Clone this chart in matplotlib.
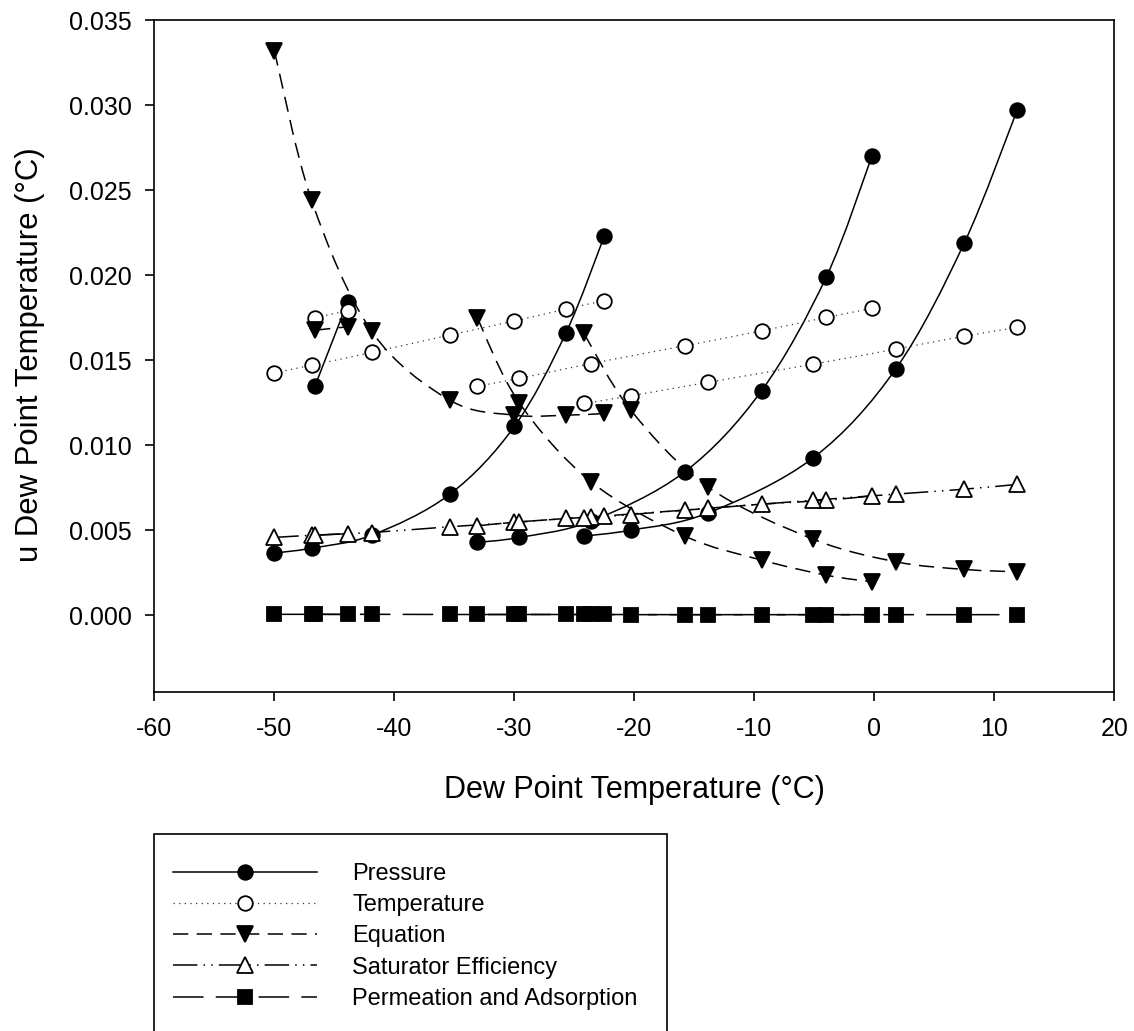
import numpy as np
import matplotlib.pyplot as plt
from matplotlib.path import Path
from matplotlib.patches import PathPatch, Rectangle
from matplotlib.lines import Line2D

plt.rcParams['font.family'] = ['Liberation Sans', 'DejaVu Sans']
plt.rcParams['axes.unicode_minus'] = False

# dew point set points of the four runs
dp_a = [-50.0, -46.9, -41.9, -35.4, -30.0, -25.7, -22.5]
dp_b = [-46.6, -43.9]
dp_c = [-33.1, -29.6, -23.6, -15.8, -9.4, -4.0, -0.2]
dp_d = [-24.2, -20.3, -13.9, -5.1, 1.8, 7.5, 11.9]

# uncertainty contributions for each run
pressure_a = [0.00365, 0.00394, 0.0047, 0.0071, 0.0111, 0.0166, 0.0223]
pressure_b = [0.0135, 0.0184]
pressure_c = [0.00428, 0.00457, 0.00553, 0.00843, 0.0132, 0.0199, 0.0270]
pressure_d = [0.00465, 0.0050, 0.0060, 0.00925, 0.0145, 0.0219, 0.0297]

temperature_a = [0.01425, 0.0147, 0.01545, 0.01647, 0.0173, 0.0180, 0.0185]
temperature_b = [0.0175, 0.0179]
temperature_c = [0.01347, 0.01392, 0.0148, 0.01584, 0.01672, 0.01751, 0.01804]
temperature_d = [0.01245, 0.0129, 0.01369, 0.01476, 0.01565, 0.01641, 0.01692]

equation_a = [0.0332, 0.0244, 0.0167, 0.01265, 0.01176, 0.01176, 0.01186]
equation_b = [0.01676, 0.01696]
equation_c = [0.0175, 0.0125, 0.00784, 0.00465, 0.00324, 0.00235, 0.00196]
equation_d = [0.01657, 0.01206, 0.00755, 0.00447, 0.00314, 0.00269, 0.00255]

saturator_a = [0.00457, 0.0047, 0.00486, 0.0052, 0.00545, 0.00569, 0.00582]
saturator_b = [0.0047, 0.0048]
saturator_c = [0.00525, 0.00549, 0.00578, 0.00618, 0.00653, 0.00676, 0.00702]
saturator_d = [0.00569, 0.00592, 0.00628, 0.00676, 0.00712, 0.00741, 0.00769]

permeation_a = [0.00005, 0.00005, 0.00005, 0.00004, 0.00004, 0.00004, 0.00004]
permeation_b = [0.00005, 0.00004]
permeation_c = [0.00004, 0.00004, 0.00004, 0.00003, 0.00003, 0.00003, 0.00003]
permeation_d = [0.00004, 0.00003, 0.00003, 0.00003, 0.00003, 0.00003, 0.00003]

runs = [dp_a, dp_b, dp_c, dp_d]
series = [
    ("Pressure", [pressure_a, pressure_b, pressure_c, pressure_d],
     dict(ls='-', lw=1.1, color='black', marker='o', ms=10.5, mfc='black')),
    ("Temperature", [temperature_a, temperature_b, temperature_c, temperature_d],
     dict(ls=(0, (1, 3.5)), lw=0.9, color='#333333', marker='o', ms=10.5, mfc='white')),
    ("Equation", [equation_a, equation_b, equation_c, equation_d],
     dict(ls=(0, (10, 5.5)), lw=1.1, color='black', marker='v', ms=12, mfc='black')),
    ("Saturator Efficiency", [saturator_a, saturator_b, saturator_c, saturator_d],
     dict(ls=(0, (16, 4, 1, 4, 1, 4)), lw=1.1, color='black', marker='^', ms=11, mfc='white')),
    ("Permeation and Adsorption", [permeation_a, permeation_b, permeation_c, permeation_d],
     dict(ls=(0, (20, 8)), lw=1.1, color='black', marker='s', ms=10.5, mfc='black')),
]


def smooth_path(x, y):
    # Catmull-Rom spline through the points, as cubic bezier segments
    pts = np.column_stack([x, y])
    n = len(pts)
    if n < 3:
        return Path(pts)
    verts = [pts[0]]
    codes = [Path.MOVETO]
    for i in range(n - 1):
        p0 = pts[max(i - 1, 0)]
        p1 = pts[i]
        p2 = pts[i + 1]
        p3 = pts[min(i + 2, n - 1)]
        verts += [p1 + (p2 - p0) / 6, p2 - (p3 - p1) / 6, p2]
        codes += [Path.CURVE4] * 3
    return Path(verts, codes)


fig = plt.figure(figsize=(11.34, 10.31), dpi=100)
ax = fig.add_axes([0.1361, 0.3291, 0.8466, 0.6515])

handles = []
for k, (name, values, st) in enumerate(series):
    for x, y in zip(runs, values):
        ax.add_patch(PathPatch(smooth_path(x, y), fill=False, edgecolor=st['color'],
                               lw=st['lw'], linestyle=st['ls'], zorder=2 + k * 0.1))
        ax.plot(x, y, ls='none', marker=st['marker'], ms=st['ms'],
                mfc=st['mfc'], mec='black', mew=1.3, zorder=3 + k * 0.1)
    handles.append(Line2D([], [], color=st['color'], lw=st['lw'], ls=st['ls'],
                          marker=st['marker'], ms=st['ms'], mfc=st['mfc'],
                          mec='black', mew=1.3))

ax.set_xlim(-60, 20)
ax.set_ylim(-0.0045, 0.035)
ax.set_xticks(np.arange(-60, 21, 10))
ax.set_yticks(np.arange(0, 0.0351, 0.005))
ax.yaxis.set_major_formatter(plt.FormatStrFormatter('%.3f'))
ax.tick_params(direction='out', length=6.5, width=1.2, labelsize=18)
ax.tick_params(axis='x', pad=11.5)
ax.tick_params(axis='y', pad=10)
for sp in ax.spines.values():
    sp.set_linewidth(1.2)

fig.text(634 / 1134, 1 - 798 / 1031, "Dew Point Temperature (°C)",
         ha='center', va='baseline', fontsize=22)
fig.text(30 / 1134, 1 - 355 / 1031, "u Dew Point Temperature (°C)",
         ha='center', va='center', rotation=90, fontsize=22.4)

# legend box runs past the bottom edge of the figure
fig.patches.append(Rectangle((154 / 1134, -0.05), (667 - 154) / 1134, 1 - 834 / 1031 + 0.05,
                             transform=fig.transFigure, fill=False, edgecolor='black', lw=1.2))
fig.legend(handles, [s[0] for s in series], loc='upper left',
           bbox_to_anchor=(173 / 1134, 1 - 863 / 1031), bbox_transform=fig.transFigure,
           fontsize=17, frameon=False, borderaxespad=0, borderpad=0,
           handlelength=6.1, handletextpad=1.5, labelspacing=0.39)

fig.savefig("out.png", dpi=100)
